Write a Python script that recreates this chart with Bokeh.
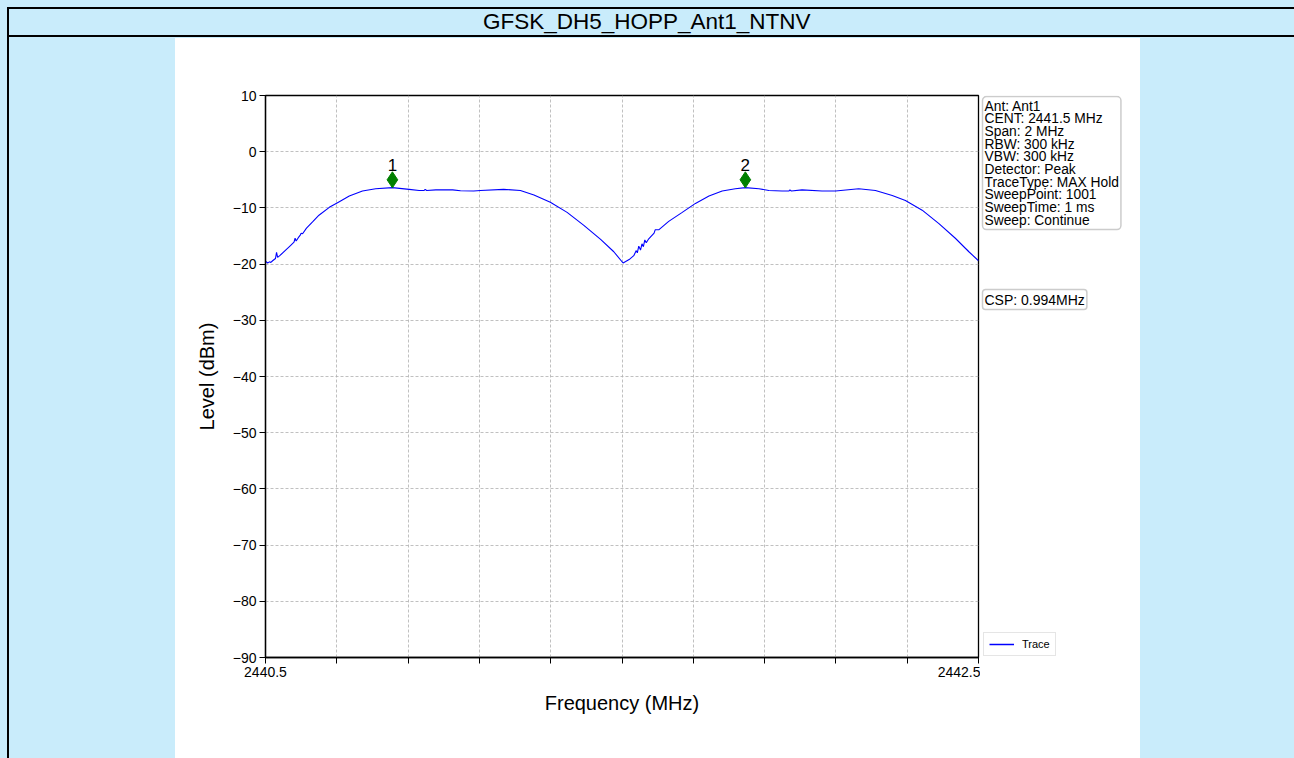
from bokeh.plotting import figure
from bokeh.models import (FixedTicker, Label, Div, Range1d, Legend, LegendItem)
from bokeh.layouts import column, row
from bokeh.core.properties import value
from bokeh.embed import file_html
from bokeh.resources import INLINE

# ---------------- data ----------------
title_text = "GFSK_DH5_HOPP_Ant1_NTNV"

freq_mhz = [
    2440.500, 2440.506, 2440.511, 2440.515, 2440.520, 2440.528, 2440.531, 2440.534,
    2440.540, 2440.555, 2440.570, 2440.580, 2440.583, 2440.586, 2440.592, 2440.597,
    2440.600, 2440.604, 2440.615, 2440.632, 2440.650, 2440.679, 2440.707, 2440.735,
    2440.772, 2440.809, 2440.856, 2440.903, 2440.931, 2440.945, 2440.948, 2440.952,
    2440.978, 2441.025, 2441.047, 2441.084, 2441.103, 2441.168, 2441.215, 2441.253,
    2441.299, 2441.346, 2441.393, 2441.440, 2441.477, 2441.503, 2441.520, 2441.533,
    2441.540, 2441.543, 2441.547, 2441.552, 2441.556, 2441.560, 2441.564, 2441.568,
    2441.575, 2441.590, 2441.593, 2441.603, 2441.631, 2441.669, 2441.706, 2441.744,
    2441.781, 2441.818, 2441.846, 2441.884, 2441.912, 2441.949, 2441.968, 2441.971,
    2441.975, 2442.005, 2442.061, 2442.099, 2442.164, 2442.211, 2442.258, 2442.295,
    2442.342, 2442.389, 2442.435, 2442.473, 2442.500,
]
level_dbm = [
    -19.5, -19.8, -19.6, -19.7, -19.4, -19.0, -17.9, -18.8,
    -18.5, -17.6, -16.7, -16.1, -15.4, -15.9, -15.3, -14.9,
    -14.5, -14.6, -13.6, -12.5, -11.3, -9.9, -8.9, -7.9,
    -7.0, -6.6, -6.4, -6.7, -6.9, -6.9, -6.7, -6.9,
    -6.8, -6.8, -6.95, -7.0, -6.9, -6.7, -6.9, -7.7,
    -9.0, -10.8, -13.1, -15.6, -17.8, -19.8, -19.2, -18.5,
    -17.6, -18.0, -16.8, -17.5, -16.4, -16.9, -15.7, -16.2,
    -15.5, -14.5, -13.9, -13.9, -12.4, -10.8, -9.2, -7.9,
    -7.0, -6.6, -6.4, -6.6, -6.9, -7.0, -7.0, -6.8,
    -7.0, -6.8, -7.0, -7.0, -6.6, -6.9, -7.8, -8.7,
    -10.4, -12.8, -15.4, -17.8, -19.4,
]

marker_freq = [2440.856, 2441.846]
marker_level = [-5.0, -5.0]
marker_names = ["1", "2"]

x_ticks = [2440.5, 2440.7, 2440.9, 2441.1, 2441.3, 2441.5, 2441.7, 2441.9, 2442.1, 2442.3, 2442.5]
x_tick_labels = ["2440.5", "", "", "", "", "", "", "", "", "", "2442.5"]
y_ticks = [-90, -80, -70, -60, -50, -40, -30, -20, -10, 0, 10]
y_tick_labels = ["\u221290", "\u221280", "\u221270", "\u221260", "\u221250", "\u221240",
                 "\u221230", "\u221220", "\u221210", "0", "10"]

info_lines = ["Ant: Ant1", "CENT: 2441.5 MHz", "Span: 2 MHz", "RBW: 300 kHz", "VBW: 300 kHz",
              "Detector: Peak", "TraceType: MAX Hold", "SweepPoint: 1001",
              "SweepTime: 1 ms", "Sweep: Continue"]
csp_text = "CSP: 0.994MHz"
legend_text = "Trace"

# ---------------- styling ----------------
BG = "#c9ecfb"
FONT = "Liberation Sans"

# main chart: frame spans page x 265..978, y 95..657
p = figure(width=805, height=720, x_range=Range1d(2440.5, 2442.5), y_range=Range1d(-90, 10),
           output_backend="svg", toolbar_location=None,
           min_border_left=90, min_border_right=2, min_border_top=57, min_border_bottom=101)
p.background_fill_color = "white"
p.border_fill_color = "white"
p.outline_line_color = "black"
p.outline_line_width = 1.3

p.xaxis.ticker = FixedTicker(ticks=x_ticks)
p.xaxis.major_label_overrides = dict(zip(x_ticks, x_tick_labels))
p.yaxis.ticker = FixedTicker(ticks=y_ticks)
p.yaxis.major_label_overrides = dict(zip(y_ticks, y_tick_labels))
p.xaxis.axis_label = "Frequency (MHz)"
p.yaxis.axis_label = "Level (dBm)"
for ax in (p.xaxis, p.yaxis):
    ax.axis_line_color = "black"
    ax.axis_line_width = 1.3
    ax.major_tick_line_color = "black"
    ax.major_tick_line_width = 1.0
    ax.major_tick_out = 6
    ax.major_tick_in = 0
    ax.minor_tick_line_color = None
    ax.major_label_text_font = FONT
    ax.major_label_text_font_size = "14px"
    ax.major_label_text_color = "black"
    ax.axis_label_text_font = FONT
    ax.axis_label_text_font_size = "20px"
    ax.axis_label_text_font_style = "normal"
    ax.axis_label_text_color = "black"
p.xaxis.major_label_standoff = 3
p.xaxis.axis_label_standoff = 12
p.yaxis.major_label_standoff = 3
p.yaxis.axis_label_standoff = 12

p.grid.grid_line_color = "#b0b0b0"
p.grid.grid_line_dash = "3 2"
p.grid.grid_line_width = 0.8
p.xgrid.ticker = FixedTicker(ticks=x_ticks)
p.ygrid.ticker = FixedTicker(ticks=y_ticks)

p.line(freq_mhz, level_dbm, line_color="blue", line_width=1.1)
p.scatter(marker_freq, marker_level, marker="diamond", size=16, fill_color="green", line_color="green")
p.text(marker_freq, marker_level, text=marker_names, text_align="center", text_baseline="bottom",
       y_offset=-9, text_font=value(FONT), text_font_size="17px", text_color="black")

# side panel with the info boxes and the legend (page x 980..1140); its frame is aligned
# with the main frame (page y 95..657)
p2 = figure(width=160, height=720, x_range=Range1d(0, 1), y_range=Range1d(0, 1),
            x_axis_type=None, y_axis_type=None, output_backend="svg", toolbar_location=None,
            min_border=0)
p2.outline_line_color = None
p2.background_fill_color = "white"
p2.border_fill_color = "white"

# same trace, outside this panel's ranges: only its legend entry shows here
swatch = p2.line(freq_mhz, level_dbm, line_color="blue", line_width=1.5)
legend = Legend(items=[LegendItem(label=legend_text, renderers=[swatch])], location=(3, 1))
legend.label_text_font = FONT
legend.label_text_font_size = "11px"
legend.label_text_color = "black"
legend.border_line_color = "#cccccc"
legend.border_line_width = 1.5
legend.padding = 5
legend.margin = 0
legend.glyph_width = 25
legend.glyph_height = 12
legend.label_height = 12
legend.label_standoff = 8
legend.background_fill_alpha = 1
p2.add_layout(legend)

info = Label(x=2, y=561, x_units="screen", y_units="screen", text="\n".join(info_lines),
             anchor="top_left", text_font=FONT, text_font_size="13.8px", text_line_height=0.845,
             text_color="black",
             background_fill_color="white", border_line_color="#cccccc", border_line_width=1.5,
             padding=2, border_radius=4)
p2.add_layout(info)
csp = Label(x=2, y=368, x_units="screen", y_units="screen", text=csp_text,
            anchor="top_left", text_font=FONT, text_font_size="14px", text_color="black",
            background_fill_color="white", border_line_color="#cccccc", border_line_width=1.5,
            padding=2, border_radius=3)
p2.add_layout(csp)

# title bar: borders painted as background layers of the host (top, bottom, left)
title_bg = ("linear-gradient(black, black) 7px 7px / 100% 2px no-repeat, "
            "linear-gradient(black, black) 7px 35px / 100% 2px no-repeat, "
            "linear-gradient(black, black) 7px 7px / 2px 31px no-repeat, " + BG)
title_div = Div(width=1294, height=38, margin=0,
                styles={"background": title_bg, "box-sizing": "border-box",
                        "padding-top": "9px", "overflow": "hidden"})
title_div.text = ('<div style="padding-left:483px;height:26px;line-height:26px;white-space:nowrap;'
                  'font-family:\'Liberation Sans\',Arial,sans-serif;font-size:22.5px;color:black;">'
                  + title_text + '</div>')
left_div = Div(text="", width=175, height=720, margin=0,
               styles={"background": "linear-gradient(to right, %s 0px, %s 7px, black 7px, black 9px, %s 9px)" % (BG, BG, BG)})
right_div = Div(text="", width=154, height=720, margin=0, styles={"background-color": BG})

layout = column(title_div, row(left_div, p, p2, right_div, spacing=0), spacing=0)

open("out.html", "w").write(file_html(layout, INLINE))
